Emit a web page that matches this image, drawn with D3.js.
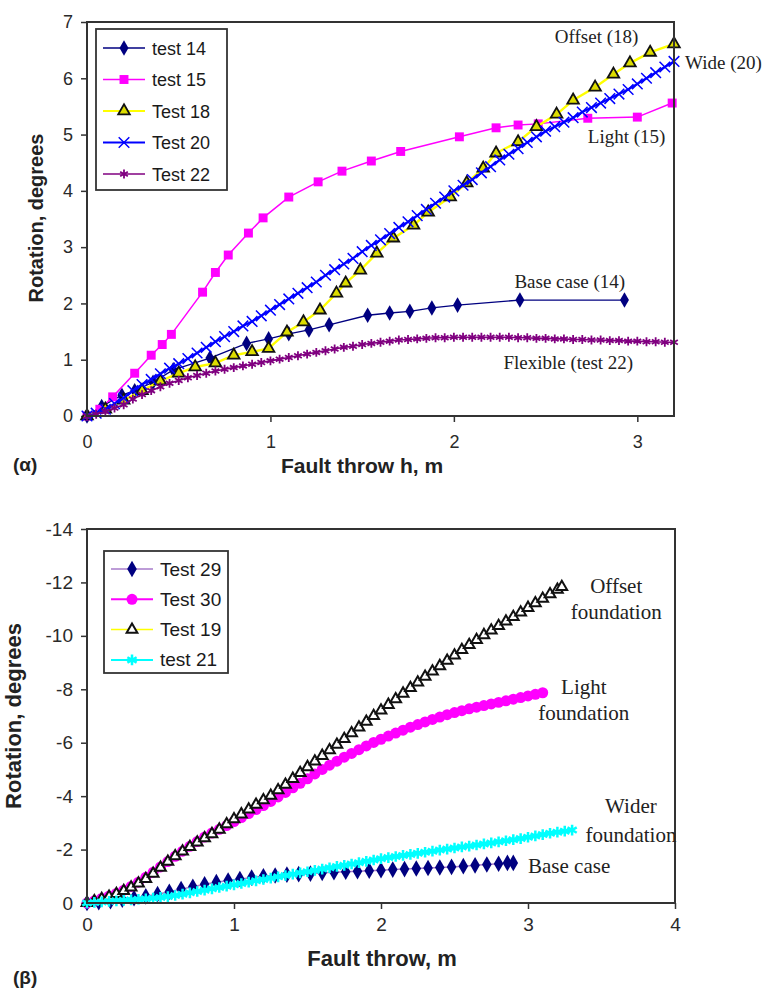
<!DOCTYPE html>
<html>
<head>
<meta charset="utf-8">
<script src="https://cdn.jsdelivr.net/npm/d3@7"></script>
<style>
  body { margin: 0; background: #fff; }
  svg { display: block; }
  .tick line { stroke: #333; stroke-width: 1.5; }
</style>
</head>
<body>
<div id="chart"></div>
<script>
// (α) rotation vs fault throw, tests 14-22  [x = fault throw m, y = rotation deg]
var test14 = [[0,0],[0.08,0.17],[0.19,0.37],[0.26,0.45],[0.36,0.6],[0.47,0.82],[0.67,1.03],[0.87,1.29],
  [0.99,1.37],[1.1,1.46],[1.21,1.53],[1.32,1.62],[1.53,1.79],[1.65,1.83],[1.76,1.86],[1.88,1.92],
  [2.02,1.97],[2.36,2.06],[2.93,2.06]];
var test15 = [[0,0],[0.07,0.12],[0.14,0.34],[0.26,0.76],[0.35,1.08],[0.41,1.27],[0.46,1.45],[0.63,2.2],
  [0.7,2.55],[0.77,2.86],[0.88,3.25],[0.96,3.52],[1.1,3.89],[1.26,4.16],[1.39,4.35],[1.55,4.53],
  [1.71,4.7],[2.03,4.96],[2.23,5.12],[2.35,5.17],[2.46,5.19],[2.73,5.29],[3.0,5.31],[3.19,5.56]];
var test18 = [[0,0],[0.1,0.12],[0.2,0.28],[0.3,0.45],[0.4,0.62],[0.5,0.76],[0.59,0.87],[0.7,0.94],
  [0.8,1.08],[0.9,1.14],[0.99,1.2],[1.09,1.49],[1.18,1.67],[1.27,1.88],[1.36,2.18],[1.41,2.36],
  [1.49,2.59],[1.58,2.89],[1.67,3.16],[1.78,3.39],[1.86,3.62],[1.98,3.89],[2.07,4.14],[2.16,4.4],
  [2.23,4.67],[2.35,4.87],[2.45,5.14],[2.56,5.36],[2.65,5.61],[2.77,5.84],[2.87,6.07],[2.96,6.27],
  [3.07,6.46],[3.2,6.61]];
var test20 = [[0,0],[0.05,0.05],[0.1,0.12],[0.15,0.22],[0.2,0.32],[0.25,0.45],[0.3,0.56],[0.35,0.65],
  [0.4,0.75],[0.45,0.85],[0.5,0.93],[0.55,1.02],[0.6,1.12],[0.65,1.22],[0.7,1.32],[0.75,1.41],
  [0.8,1.5],[0.85,1.6],[0.9,1.68],[0.95,1.78],[1.0,1.88],[1.05,1.98],[1.1,2.08],[1.15,2.18],
  [1.2,2.28],[1.25,2.38],[1.3,2.5],[1.35,2.6],[1.4,2.7],[1.45,2.8],[1.5,2.92],[1.55,3.03],
  [1.6,3.13],[1.65,3.24],[1.7,3.35],[1.75,3.45],[1.8,3.56],[1.85,3.67],[1.9,3.78],[1.95,3.89],
  [2.0,4.0],[2.05,4.1],[2.1,4.2],[2.15,4.32],[2.2,4.43],[2.25,4.55],[2.3,4.65],[2.35,4.75],
  [2.4,4.86],[2.45,4.96],[2.5,5.06],[2.55,5.14],[2.6,5.22],[2.65,5.3],[2.7,5.4],[2.75,5.48],
  [2.8,5.56],[2.85,5.64],[2.9,5.72],[2.95,5.8],[3.0,5.9],[3.05,6.0],[3.1,6.1],[3.15,6.2],[3.2,6.3]];
var test22 = [[0,0],[0.05,0.03],[0.1,0.08],[0.15,0.14],[0.2,0.2],[0.25,0.3],[0.3,0.38],[0.35,0.45],
  [0.4,0.52],[0.45,0.58],[0.5,0.63],[0.55,0.68],[0.6,0.72],[0.65,0.76],[0.7,0.8],[0.75,0.83],
  [0.8,0.86],[0.85,0.89],[0.9,0.92],[0.95,0.95],[1.0,0.98],[1.05,1.01],[1.1,1.04],[1.15,1.07],
  [1.2,1.1],[1.25,1.13],[1.3,1.16],[1.35,1.19],[1.4,1.22],[1.45,1.24],[1.5,1.27],[1.55,1.29],
  [1.6,1.31],[1.65,1.33],[1.7,1.35],[1.75,1.36],[1.8,1.37],[1.85,1.38],[1.9,1.39],[1.95,1.39],
  [2.0,1.4],[2.05,1.4],[2.1,1.4],[2.15,1.4],[2.2,1.4],[2.25,1.4],[2.3,1.4],[2.35,1.39],
  [2.4,1.39],[2.45,1.38],[2.5,1.38],[2.55,1.37],[2.6,1.37],[2.65,1.36],[2.7,1.36],[2.75,1.35],
  [2.8,1.35],[2.85,1.34],[2.9,1.34],[2.95,1.33],[3.0,1.33],[3.05,1.32],[3.1,1.32],[3.15,1.31],[3.2,1.31]];

// (β) rotation vs fault throw, tests 29, 30, 19, 21
var test29 = [[0,0],[0.08,-0.03],[0.16,-0.07],[0.24,-0.12],[0.32,-0.18],[0.4,-0.25],[0.48,-0.33],
  [0.56,-0.42],[0.64,-0.52],[0.72,-0.61],[0.8,-0.7],[0.88,-0.78],[0.96,-0.84],[1.04,-0.9],
  [1.12,-0.95],[1.2,-1.0],[1.28,-1.03],[1.36,-1.06],[1.44,-1.08],[1.52,-1.1],[1.6,-1.13],
  [1.68,-1.15],[1.76,-1.17],[1.84,-1.19],[1.92,-1.21],[2.0,-1.23],[2.08,-1.25],[2.16,-1.27],
  [2.24,-1.29],[2.32,-1.31],[2.4,-1.33],[2.48,-1.35],[2.56,-1.38],[2.64,-1.41],[2.72,-1.44],
  [2.8,-1.47],[2.86,-1.5],[2.9,-1.5]];
var test30 = [[0,0],[0.05,-0.08],[0.1,-0.17],[0.15,-0.26],[0.2,-0.36],[0.25,-0.48],[0.3,-0.62],
  [0.35,-0.78],[0.4,-0.96],[0.45,-1.15],[0.5,-1.35],[0.55,-1.55],[0.6,-1.75],[0.65,-1.94],
  [0.7,-2.12],[0.75,-2.3],[0.8,-2.47],[0.85,-2.62],[0.9,-2.76],[0.95,-2.9],[1.0,-3.05],
  [1.05,-3.2],[1.1,-3.35],[1.15,-3.5],[1.2,-3.65],[1.25,-3.8],[1.3,-3.97],[1.35,-4.14],
  [1.4,-4.31],[1.45,-4.48],[1.5,-4.65],[1.55,-4.83],[1.6,-5.0],[1.65,-5.16],[1.7,-5.31],
  [1.75,-5.46],[1.8,-5.6],[1.85,-5.74],[1.9,-5.88],[1.95,-6.01],[2.0,-6.13],[2.05,-6.25],
  [2.1,-6.36],[2.15,-6.47],[2.2,-6.58],[2.25,-6.68],[2.3,-6.78],[2.35,-6.87],[2.4,-6.96],
  [2.45,-7.05],[2.5,-7.13],[2.55,-7.2],[2.6,-7.27],[2.65,-7.33],[2.7,-7.39],[2.75,-7.45],
  [2.8,-7.51],[2.85,-7.57],[2.9,-7.63],[2.95,-7.69],[3.0,-7.75],[3.05,-7.81],[3.1,-7.87]];
var test19 = [[0,0],[0.05,-0.07],[0.1,-0.15],[0.15,-0.24],[0.2,-0.34],[0.25,-0.45],[0.3,-0.58],
  [0.35,-0.73],[0.4,-0.9],[0.45,-1.1],[0.5,-1.32],[0.55,-1.55],[0.6,-1.75],[0.65,-1.93],
  [0.7,-2.1],[0.75,-2.27],[0.8,-2.43],[0.85,-2.58],[0.9,-2.75],[0.95,-2.95],[1.0,-3.14],
  [1.05,-3.32],[1.1,-3.5],[1.15,-3.68],[1.2,-3.85],[1.25,-4.02],[1.3,-4.22],[1.35,-4.43],
  [1.4,-4.65],[1.45,-4.87],[1.5,-5.09],[1.55,-5.3],[1.6,-5.51],[1.65,-5.72],[1.7,-5.93],
  [1.75,-6.14],[1.8,-6.36],[1.85,-6.57],[1.9,-6.79],[1.95,-7.0],[2.0,-7.21],[2.05,-7.42],
  [2.1,-7.63],[2.15,-7.84],[2.2,-8.05],[2.25,-8.26],[2.3,-8.47],[2.35,-8.67],[2.4,-8.87],
  [2.45,-9.07],[2.5,-9.27],[2.55,-9.47],[2.6,-9.66],[2.65,-9.85],[2.7,-10.03],[2.75,-10.2],
  [2.8,-10.37],[2.85,-10.54],[2.9,-10.71],[2.95,-10.88],[3.0,-11.05],[3.05,-11.22],[3.1,-11.39],
  [3.15,-11.56],[3.2,-11.73],[3.23,-11.83]];
var test21 = [[0,0],[0.05,-0.02],[0.1,-0.04],[0.15,-0.06],[0.2,-0.08],[0.25,-0.1],[0.3,-0.12],
  [0.35,-0.14],[0.4,-0.16],[0.45,-0.18],[0.5,-0.21],[0.55,-0.24],[0.6,-0.28],[0.65,-0.33],
  [0.7,-0.38],[0.75,-0.43],[0.8,-0.48],[0.85,-0.53],[0.9,-0.58],[0.95,-0.63],[1.0,-0.68],
  [1.05,-0.73],[1.1,-0.78],[1.15,-0.83],[1.2,-0.88],[1.25,-0.93],[1.3,-0.98],[1.35,-1.03],
  [1.4,-1.08],[1.45,-1.13],[1.5,-1.17],[1.55,-1.22],[1.6,-1.27],[1.65,-1.32],[1.7,-1.37],
  [1.75,-1.41],[1.8,-1.46],[1.85,-1.51],[1.9,-1.56],[1.95,-1.61],[2.0,-1.66],[2.05,-1.7],
  [2.1,-1.74],[2.15,-1.78],[2.2,-1.82],[2.25,-1.86],[2.3,-1.9],[2.35,-1.94],[2.4,-1.98],
  [2.45,-2.02],[2.5,-2.06],[2.55,-2.1],[2.6,-2.13],[2.65,-2.17],[2.7,-2.21],[2.75,-2.25],
  [2.8,-2.29],[2.85,-2.33],[2.9,-2.37],[2.95,-2.41],[3.0,-2.46],[3.05,-2.51],[3.1,-2.56],
  [3.15,-2.61],[3.2,-2.65],[3.25,-2.69],[3.3,-2.73]];

var topLabels = ["test 14", "test 15", "Test 18", "Test 20", "Test 22"];
var bottomLabels = ["Test 29", "Test 30", "Test 19", "test 21"];
var topXTicks = [0, 1, 2, 3];
var topYTicks = [0, 1, 2, 3, 4, 5, 6, 7];
var bottomXTicks = [0, 1, 2, 3, 4];
var bottomYTicks = [0, -2, -4, -6, -8, -10, -12, -14];

var sans = "Arial, 'Liberation Sans', Helvetica, sans-serif";
var serif = "'Times New Roman', 'Liberation Serif', serif";

var svg = d3.select("#chart")
    .append("svg")
    .attr("width", 774)
    .attr("height", 988);

// styles for every series
var topStyles = [
    { data: test14, line: "#000080", lw: 1.3, sym: d3.symbolDiamond, size: 70, fill: "#000080", stroke: "none", sw: 0 },
    { data: test15, line: "#ff00ff", lw: 1.5, sym: d3.symbolSquare, size: 80, fill: "#ff00ff", stroke: "none", sw: 0 },
    { data: test18, line: "#ffff00", lw: 2.4, sym: d3.symbolTriangle, size: 58, fill: "#dddd00", stroke: "#111", sw: 1.8 },
    { data: test20, line: "#0000ff", lw: 2.2, sym: d3.symbolTimes, size: 75, fill: "none", stroke: "#0000ff", sw: 1.5 },
    { data: test22, line: "#800080", lw: 1.6, sym: d3.symbolAsterisk, size: 55, fill: "none", stroke: "#800080", sw: 1.8 }
];
var bottomStyles = [
    { data: test29, line: "#a77bca", lw: 1.5, sym: d3.symbolDiamond, size: 80, fill: "#000080", stroke: "none", sw: 0 },
    { data: test30, line: "#ff00ff", lw: 2, sym: d3.symbolCircle, size: 95, fill: "#ff00ff", stroke: "none", sw: 0 },
    { data: test19, line: "#ffff00", lw: 1.5, sym: d3.symbolTriangle, size: 50, fill: "#fff", stroke: "#111", sw: 2 },
    { data: test21, line: "#00ffff", lw: 2.5, sym: d3.symbolAsterisk, size: 80, fill: "none", stroke: "#00ffff", sw: 2.5 }
];

function drawSeries(g, x, y, s) {
    var line = d3.line()
        .x(function(d) { return x(d[0]); })
        .y(function(d) { return y(d[1]); });
    g.append("path")
        .datum(s.data)
        .attr("fill", "none")
        .attr("stroke", s.line)
        .attr("stroke-width", s.lw)
        .attr("d", line);
    g.append("g").selectAll("path")
        .data(s.data)
        .enter()
        .append("path")
        .attr("transform", function(d) { return "translate(" + x(d[0]) + "," + y(d[1]) + ")"; })
        .attr("d", d3.symbol().type(s.sym).size(s.size))
        .attr("fill", s.fill)
        .attr("stroke", s.stroke)
        .attr("stroke-width", s.sw);
}

function drawPanel(opt) {
    var x = d3.scaleLinear().domain(opt.xDomain).range(opt.xRange);
    var y = d3.scaleLinear().domain(opt.yDomain).range(opt.yRange);
    var g = svg.append("g");

    var xAxis = d3.axisBottom(x).tickValues(opt.xTicks).tickSize(6).tickPadding(opt.xPad)
        .tickFormat(function(d) { return String(d); });
    var yAxis = d3.axisLeft(y).tickValues(opt.yTicks).tickSize(6).tickPadding(8)
        .tickFormat(function(d) { return String(d); });

    var gx = g.append("g").attr("transform", "translate(0," + opt.yRange[0] + ")").call(xAxis);
    var gy = g.append("g").attr("transform", "translate(" + opt.xRange[0] + ",0)").call(yAxis);
    [gx, gy].forEach(function(a) {
        a.select(".domain").remove();
        a.selectAll("text")
            .attr("font-family", sans)
            .attr("font-size", opt.tickFont)
            .attr("fill", "#2a2a2a");
    });

    var plot = g.append("g");
    opt.styles.forEach(function(s) { drawSeries(plot, x, y, s); });

    // plot frame
    g.append("rect")
        .attr("x", opt.xRange[0])
        .attr("y", opt.yRange[1])
        .attr("width", opt.xRange[1] - opt.xRange[0])
        .attr("height", opt.yRange[0] - opt.yRange[1])
        .attr("fill", "none")
        .attr("stroke", "#333")
        .attr("stroke-width", 2);

    // legend
    var lg = g.append("g");
    lg.append("rect")
        .attr("x", opt.legend.x).attr("y", opt.legend.y)
        .attr("width", opt.legend.w).attr("height", opt.legend.h)
        .attr("fill", "#fff").attr("stroke", "#333").attr("stroke-width", 1.8);
    opt.styles.forEach(function(s, i) {
        var cy = opt.legend.y + opt.legend.first + i * opt.legend.step;
        var x0 = opt.legend.x + 7;
        lg.append("line")
            .attr("x1", x0).attr("x2", x0 + 42)
            .attr("y1", cy).attr("y2", cy)
            .attr("stroke", s.line).attr("stroke-width", Math.min(s.lw, 2));
        lg.append("path")
            .attr("transform", "translate(" + (x0 + 21) + "," + cy + ")")
            .attr("d", d3.symbol().type(s.sym).size(s.size))
            .attr("fill", s.fill)
            .attr("stroke", s.stroke)
            .attr("stroke-width", s.sw);
        lg.append("text")
            .attr("x", x0 + 49)
            .attr("y", cy + 6.5)
            .attr("font-family", sans)
            .attr("font-size", opt.legend.font)
            .attr("fill", "#1a1a1a")
            .text(opt.labels[i]);
    });

    // axis titles
    g.append("text")
        .attr("x", opt.xTitle.x).attr("y", opt.xTitle.y)
        .attr("text-anchor", "middle")
        .attr("font-family", sans).attr("font-weight", "bold")
        .attr("font-size", opt.xTitle.size)
        .attr("fill", "#222")
        .text(opt.xTitle.text);
    g.append("text")
        .attr("transform", "translate(" + opt.yTitle.x + "," + opt.yTitle.y + ") rotate(-90)")
        .attr("text-anchor", "middle")
        .attr("font-family", sans).attr("font-weight", "bold")
        .attr("font-size", opt.yTitle.size)
        .attr("fill", "#222")
        .text("Rotation, degrees");

    // curve annotations
    opt.notes.forEach(function(n) {
        g.append("text")
            .attr("x", x(n[1])).attr("y", y(n[2]))
            .attr("text-anchor", n[3])
            .attr("font-family", serif)
            .attr("font-size", opt.noteFont)
            .attr("fill", "#222")
            .text(n[0]);
    });
    return g;
}

drawPanel({
    xDomain: [0, 3.2], xRange: [87, 674],
    yDomain: [0, 7], yRange: [416, 22],
    xTicks: topXTicks, yTicks: topYTicks, xPad: 13, tickFont: 18,
    styles: topStyles, labels: topLabels,
    legend: { x: 96, y: 29, w: 131, h: 161, first: 19, step: 31.5, font: 18 },
    xTitle: { text: "Fault throw h, m", x: 362, y: 473, size: 21 },
    yTitle: { x: 43, y: 218, size: 20 },
    noteFont: 19,
    notes: [
        ["Offset (18)", 2.55, 6.63, "start"],
        ["Wide (20)", 3.26, 6.17, "start"],
        ["Light (15)", 2.73, 4.85, "start"],
        ["Base case (14)", 2.33, 2.28, "start"],
        ["Flexible (test 22)", 2.27, 0.84, "start"]
    ]
});

drawPanel({
    xDomain: [0, 4], xRange: [87, 675],
    yDomain: [0, -14], yRange: [903, 529],
    xTicks: bottomXTicks, yTicks: bottomYTicks, xPad: 9, tickFont: 19,
    styles: bottomStyles, labels: bottomLabels,
    legend: { x: 104, y: 551, w: 124, h: 122, first: 18, step: 30.3, font: 19 },
    xTitle: { text: "Fault throw, m", x: 382, y: 966, size: 22 },
    yTitle: { x: 21, y: 716, size: 22 },
    noteFont: 21,
    notes: [
        ["Offset", 3.6, -11.6, "middle"],
        ["foundation", 3.6, -10.63, "middle"],
        ["Light", 3.38, -7.82, "middle"],
        ["foundation", 3.38, -6.85, "middle"],
        ["Wider", 3.7, -3.37, "middle"],
        ["foundation", 3.7, -2.28, "middle"],
        ["Base case", 3.0, -1.12, "start"]
    ]
});

// panel letters
svg.append("text").attr("x", 13).attr("y", 471)
    .attr("font-family", sans).attr("font-weight", "bold").attr("font-size", 19)
    .attr("fill", "#222").text("(α)");
svg.append("text").attr("x", 13).attr("y", 984)
    .attr("font-family", sans).attr("font-weight", "bold").attr("font-size", 19)
    .attr("fill", "#222").text("(β)");
</script>
</body>
</html>
